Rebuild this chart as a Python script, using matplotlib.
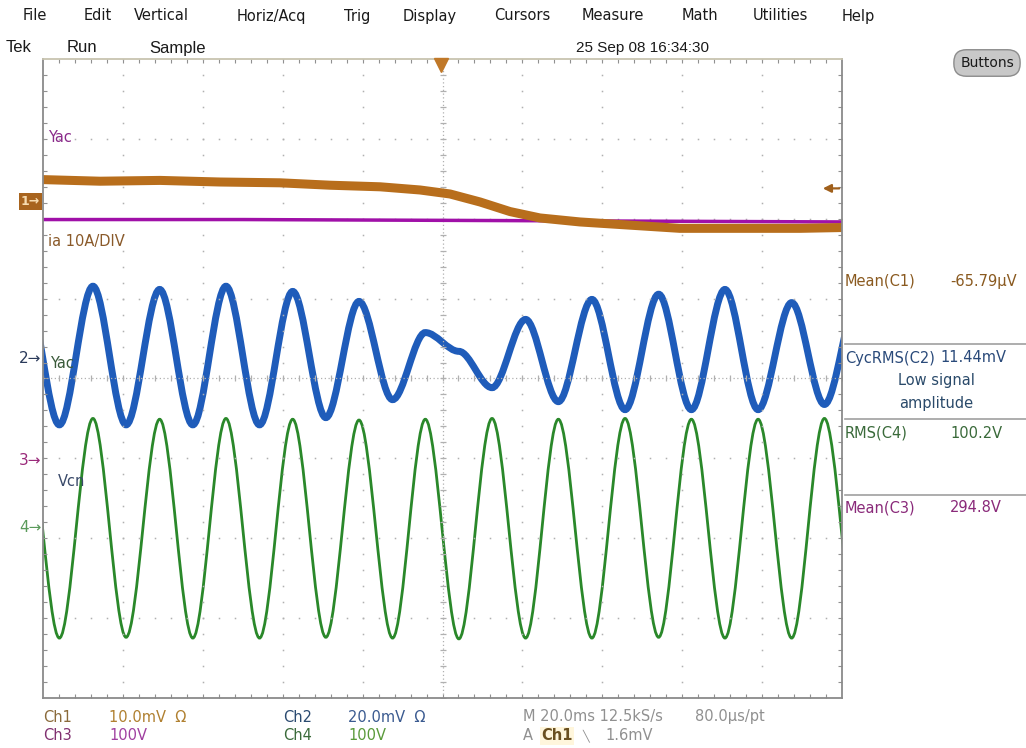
import numpy as np
import matplotlib
matplotlib.use('Agg')
import matplotlib.pyplot as plt
from matplotlib.path import Path
from matplotlib.patches import PathPatch
from matplotlib.transforms import blended_transform_factory

# time in ms from the left edge of the screen (20 ms/div, 10 div)
# times of the successive peaks / troughs of the 60 Hz waves
ext_t = [-4.3, 4.1, 12.5, 20.8, 29.2, 37.5, 45.8, 54.2, 62.5, 70.8, 79.1, 87.5, 95.7,
         104.1, 112.4, 120.8, 129.0, 137.4, 145.7, 154.1, 162.3, 170.7, 179.0, 187.4, 195.6, 204.0]
# Ch4 Vcn extremes (V)
vcn_v = [135, -139, 136, -138, 135, -139, 136, -139, 135, -138, 134, -139, 135,
         -140, 136, -139, 135, -139, 136, -138, 135, -139, 135, -139, 136, -139]
# Ch2 Vac extremes (mV), amplitude collapses and phase flips near the middle
vac_mv = [17.3, -16.6, 18.1, -16.6, 17.3, -16.6, 18.1, -16.6, 16.8, -14.8, 14.3, -10.3, 6.5,
          1.8, -7.3, 9.8, -10.8, 14.8, -12.8, 16.1, -12.8, 17.3, -12.8, 14.0, -11.5, 14.8]
# Ch1 ia (mV)
ia_t = [0, 14.3, 29.3, 44.3, 59.3, 71.8, 84.4, 94.4, 101.9, 109.4, 116.9, 124.4, 134.4,
        146.9, 159.4, 174.5, 189.5, 200]
ia_mv = [2.7, 2.5, 2.6, 2.4, 2.3, 2.0, 1.8, 1.4, 0.9, -0.1, -1.3, -2.1, -2.6,
         -3.0, -3.4, -3.4, -3.4, -3.3]
# Ch3 Vac (V)
vdc_t = [0, 50, 100, 150, 200]
vdc_v = [302, 302, 301, 300, 299]

# volts per div and marker level (div) of each channel
ch_scale = {1: 10.0, 2: 20.0, 3: 100.0, 4: 100.0}
ch_offset = {1: 2.22, 2: 0.25, 3: -1.03, 4: -1.86}
trig_level_mv = 1.6

meas_names = ['Mean(C1)', 'CycRMS(C2)', 'RMS(C4)', 'Mean(C3)']
meas_values = ['-65.79µV', '11.44mV', '100.2V', '294.8V']
meas_colors = ['#8a5a20', '#2a4a7a', '#3a6a3a', '#8a2a7a']

menu_items = ['File', 'Edit', 'Vertical', 'Horiz/Acq', 'Trig', 'Display',
              'Cursors', 'Measure', 'Math', 'Utilities', 'Help']

c_ia = '#b86e1c'
c_vac = '#1f5cba'
c_vdc = '#a010a8'
c_vcn = '#2a882a'

W, H = 1026, 748


def px(x, y):
    return x / W, 1 - y / H


def to_div(ch, vals):
    return ch_offset[ch] + np.asarray(vals, dtype=float) / ch_scale[ch]


def wave_path(t, v):
    # half cycles between extremes drawn as cubic curves with flat tangents
    verts = [(t[0], v[0])]
    codes = [Path.MOVETO]
    for i in range(len(t) - 1):
        dt = t[i + 1] - t[i]
        verts += [(t[i] + dt / 3, v[i]), (t[i + 1] - dt / 3, v[i + 1]), (t[i + 1], v[i + 1])]
        codes += [Path.CURVE4] * 3
    return Path(verts, codes)


fig = plt.figure(figsize=(W / 100, H / 100), dpi=100)
fig.patch.set_facecolor('white')
ax = fig.add_axes([43 / W, 1 - 698 / H, (842 - 43) / W, (698 - 59) / H])
ax.set_xlim(0, 200)
ax.set_ylim(-4, 4)

# graticule
grid_c = '#b0b0b0'
for gx in range(20, 200, 20):
    if gx == 100:
        continue
    ys = np.arange(-4, 4.01, 0.2)
    ax.plot(np.full_like(ys, gx), ys, ls='none', marker='s', ms=1.1, color=grid_c, mew=0)
for gy in range(-3, 4):
    if gy == 0:
        continue
    xs = np.arange(0, 200.1, 4)
    ax.plot(xs, np.full_like(xs, gy), ls='none', marker='s', ms=1.1, color=grid_c, mew=0)
ax.axhline(0, ls=(0, (1, 2)), lw=0.9, color=grid_c)
ax.axvline(100, ls=(0, (1, 2)), lw=0.9, color=grid_c)
xs = np.arange(0, 200.1, 4)
ax.plot(xs, np.zeros_like(xs), ls='none', marker='|', ms=5, color=grid_c, mew=0.9)
ys = np.arange(-4, 4.01, 0.2)
ax.plot(np.full_like(ys, 100), ys, ls='none', marker='_', ms=5, color=grid_c, mew=0.9)

ax.set_xticks(np.arange(4, 200, 4))
ax.set_yticks(np.arange(-3.8, 4, 0.2))
ax.tick_params(direction='in', length=3, width=0.8, color='#909090',
               top=True, right=True, labelbottom=False, labelleft=False)
for s in ax.spines.values():
    s.set_color('#8a8a8a')
    s.set_linewidth(1.3)
ax.spines['top'].set_color('#c8c4b0')

# traces
ax.plot(vdc_t, to_div(3, vdc_v), color=c_vdc, lw=2.5, solid_joinstyle='round')
ax.plot(ia_t, to_div(1, ia_mv), color=c_ia, lw=6.5, solid_joinstyle='round')
ax.add_patch(PathPatch(wave_path(ext_t, to_div(2, vac_mv)), fill=False, ec=c_vac, lw=5))
ax.add_patch(PathPatch(wave_path(ext_t, to_div(4, vcn_v)), fill=False, ec=c_vcn, lw=2))

# trigger position and level markers
ax.plot([99.6], [3.93], marker='v', ms=10, color='#c07828', clip_on=False, zorder=5)
lvl = ch_offset[1] + trig_level_mv / ch_scale[1]
ax.annotate('', xy=(194.5, lvl), xytext=(200, lvl),
            arrowprops=dict(arrowstyle='-|>', color='#a0601c', lw=1.6, mutation_scale=12))

# channel markers left of the screen
tr = blended_transform_factory(ax.transAxes, ax.transData)
ax.text(-0.004, ch_offset[1], '1\u2192', transform=tr, ha='right', va='center',
        fontsize=9, color='#f8dcb0', fontweight='bold', clip_on=False,
        bbox=dict(boxstyle='square,pad=0.15', fc='#a8641e', ec='none'))
ax.text(-0.002, ch_offset[2], '2\u2192', transform=tr, ha='right', va='center',
        fontsize=11, color='#2a3a5a', clip_on=False)
ax.text(-0.002, ch_offset[3], '3\u2192', transform=tr, ha='right', va='center',
        fontsize=11, color='#9a2a7a', clip_on=False)
ax.text(-0.002, ch_offset[4], '4\u2192', transform=tr, ha='right', va='center',
        fontsize=11, color='#5a9a5a', clip_on=False)

# labels on the screen
fig.text(*px(48, 137), 'Yac', fontsize=10.5, color='#8a2a8a', va='center')
fig.text(*px(48, 242), 'ia 10A/DIV', fontsize=10.5, color='#8a5a2a', va='center')
fig.text(*px(50, 363), 'Yac', fontsize=10.5, color='#3a5a3a', va='center')
fig.text(*px(58, 482), 'Vcn', fontsize=10.5, color='#3a4a6a', va='center')

# menu bar
menu_x = [35, 98, 161, 271, 357, 430, 522, 613, 700, 780, 858]
for name, x in zip(menu_items, menu_x):
    fig.text(*px(x, 16), name, fontsize=10.5, ha='center', va='center', color='#1a1a1a')

narrow = ['Liberation Sans', 'DejaVu Sans']
fig.text(*px(6, 48), 'Tek', fontsize=12, family=narrow, va='center', color='#1a1a1a')
fig.text(*px(82, 48), 'Run', fontsize=12, family=narrow, ha='center', va='center', color='#1a1a1a')
fig.text(*px(178, 48), 'Sample', fontsize=12, family=narrow, ha='center', va='center', color='#1a1a1a')
fig.text(*px(643, 48), '25 Sep 08 16:34:30', fontsize=11, family=narrow,
         ha='center', va='center', color='#1a1a1a')
fig.text(*px(987, 63), 'Buttons', fontsize=10, ha='center', va='center', color='#1a1a1a',
         bbox=dict(boxstyle='round,pad=0.45,rounding_size=0.9', fc='#c8c8c8', ec='#8c8c8c'))

# measurement panel
meas_y = [281, 358, 433, 508]
for name, val, col, y in zip(meas_names, meas_values, meas_colors, meas_y):
    fig.text(*px(845, y), name, fontsize=10.5, color=col, va='center')
    fig.text(*px(950 if name != 'CycRMS(C2)' else 940, y), val, fontsize=10.5, color=col, va='center')
fig.text(*px(936, 380), 'Low signal', fontsize=10.5, color='#2a4a6a', ha='center', va='center')
fig.text(*px(936, 403), 'amplitude', fontsize=10.5, color='#2a4a6a', ha='center', va='center')
for y in [344, 419, 495]:
    fig.add_artist(plt.Line2D([845 / W, 1], [1 - y / H] * 2, color='#a0a0a0', lw=1.2))

# readouts below the screen
fig.text(*px(43, 717), 'Ch1', fontsize=10.5, color='#8a6a3a', va='center')
fig.text(*px(109, 717), '10.0mV  \u03a9', fontsize=10.5, color='#b08030', va='center')
fig.text(*px(43, 736), 'Ch3', fontsize=10.5, color='#803070', va='center')
fig.text(*px(109, 736), '100V', fontsize=10.5, color='#a040a0', va='center')
fig.text(*px(283, 717), 'Ch2', fontsize=10.5, color='#2a4a70', va='center')
fig.text(*px(348, 717), '20.0mV  \u03a9', fontsize=10.5, color='#3a5a90', va='center')
fig.text(*px(283, 736), 'Ch4', fontsize=10.5, color='#3a6a3a', va='center')
fig.text(*px(348, 736), '100V', fontsize=10.5, color='#5a9a3a', va='center')
fig.text(*px(523, 717), 'M 20.0ms 12.5kS/s', fontsize=10.5, color='#909090', va='center')
fig.text(*px(695, 717), '80.0µs/pt', fontsize=10.5, color='#909090', va='center')
fig.text(*px(523, 736), 'A', fontsize=10.5, color='#909090', va='center')
fig.text(*px(541, 736), 'Ch1', fontsize=10.5, color='#6a5020', va='center', fontweight='bold',
         bbox=dict(boxstyle='square,pad=0.1', fc='#fff6dc', ec='none'))
fig.text(*px(582, 736), '\u2572', fontsize=8, color='#909090', va='center')
fig.text(*px(605, 736), '1.6mV', fontsize=10.5, color='#909090', va='center')

fig.savefig('out.png', dpi=100)
